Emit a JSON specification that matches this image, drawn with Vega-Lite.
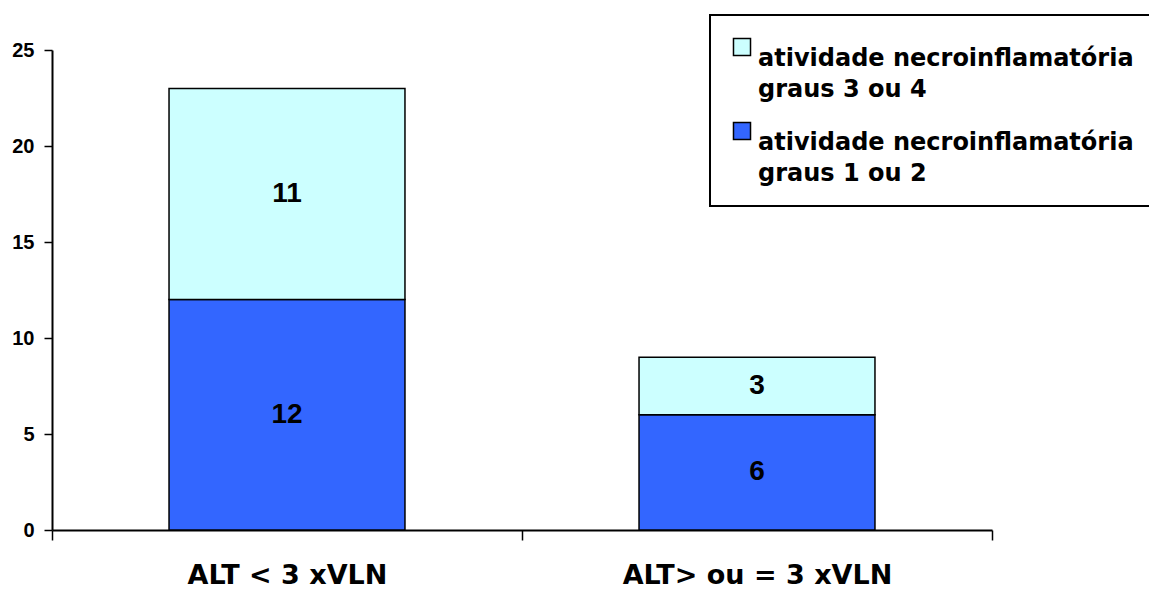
{
  "$schema": "https://vega.github.io/schema/vega-lite/v6.json",
  "autosize": "none",
  "width": 940,
  "height": 480,
  "padding": {"left": 52, "top": 50, "right": 157, "bottom": 62},
  "background": "white",
  "config": {
    "view": {"stroke": null},
    "font": "Liberation Sans",
    "legend": {"strokeWidth": 2},
    "style": {"guide-label": {"lineHeight": 31}},
    "axisX": {
      "tickBand": "extent",
      "labelAngle": 0,
      "labelFont": "DejaVu Sans",
      "labelFontWeight": "bold",
      "labelFontSize": 27,
      "labelColor": "black",
      "labelPadding": 22,
      "labelLimit": 400,
      "tickSize": 10,
      "tickColor": "black",
      "tickWidth": 1.5,
      "domainColor": "black",
      "domainWidth": 2,
      "title": null
    },
    "axisY": {
      "grid": false,
      "labelFont": "Liberation Sans",
      "labelFontWeight": "bold",
      "labelFontSize": 20,
      "labelColor": "black",
      "labelPadding": 10,
      "tickSize": 8,
      "tickColor": "black",
      "tickWidth": 1.5,
      "domainColor": "black",
      "domainWidth": 2,
      "title": null
    }
  },
  "data": {
    "values": [
      {"alt": "ALT < 3 xVLN", "grau": "atividade necroinflamatória graus 1 ou 2", "n": 12},
      {"alt": "ALT < 3 xVLN", "grau": "atividade necroinflamatória graus 3 ou 4", "n": 11},
      {"alt": "ALT> ou = 3 xVLN", "grau": "atividade necroinflamatória graus 1 ou 2", "n": 6},
      {"alt": "ALT> ou = 3 xVLN", "grau": "atividade necroinflamatória graus 3 ou 4", "n": 3}
    ]
  },
  "encoding": {
    "x": {
      "field": "alt",
      "type": "nominal",
      "sort": null,
      "title": null,
      "scale": {"paddingInner": 0, "paddingOuter": 0}
    }
  },
  "layer": [
    {
      "mark": {"type": "bar", "stroke": "black", "strokeWidth": 1.5, "width": {"band": 0.502}},
      "encoding": {
        "y": {
          "field": "n",
          "type": "quantitative",
          "stack": "zero",
          "title": null,
          "scale": {"domain": [0, 25], "nice": false},
          "axis": {"values": [0, 5, 10, 15, 20, 25]}
        },
        "color": {
          "field": "grau",
          "type": "nominal",
          "title": null,
          "scale": {
            "domain": ["atividade necroinflamatória graus 3 ou 4", "atividade necroinflamatória graus 1 ou 2"],
            "range": ["#CCFFFF", "#3366FF"]
          },
          "legend": {
            "orient": "none",
            "legendX": 658,
            "legendY": -35,
            "padding": 20,
            "strokeColor": "black",
            "fillColor": "white",
            "symbolType": "square",
            "symbolSize": 290,
            "symbolStrokeColor": "black",
            "symbolStrokeWidth": 1.5,
            "symbolOpacity": 1,
            "labelFont": "DejaVu Sans",
            "labelFontWeight": "bold",
            "labelFontSize": 24,
            "labelColor": "black",
            "labelLimit": 500,
            "labelOffset": 4,
            "labelBaseline": "top",
            "rowPadding": 17,
            "labelExpr": "[slice(datum.label, 0, 27), slice(datum.label, 28)]"
          }
        },
        "order": {"field": "grau", "sort": "ascending"}
      }
    },
    {
      "transform": [
        {"stack": "n", "groupby": ["alt"], "sort": [{"field": "grau", "order": "ascending"}], "as": ["n0", "n1"]},
        {"calculate": "(datum.n0 + datum.n1) / 2", "as": "mid"}
      ],
      "mark": {"type": "text", "font": "Liberation Sans", "fontWeight": "bold", "fontSize": 28, "color": "black", "baseline": "middle"},
      "encoding": {
        "y": {
          "field": "mid",
          "type": "quantitative",
          "title": null,
          "scale": {"domain": [0, 25], "nice": false},
          "axis": {"values": [0, 5, 10, 15, 20, 25]}
        },
        "text": {"field": "n", "type": "quantitative"}
      }
    }
  ]
}
